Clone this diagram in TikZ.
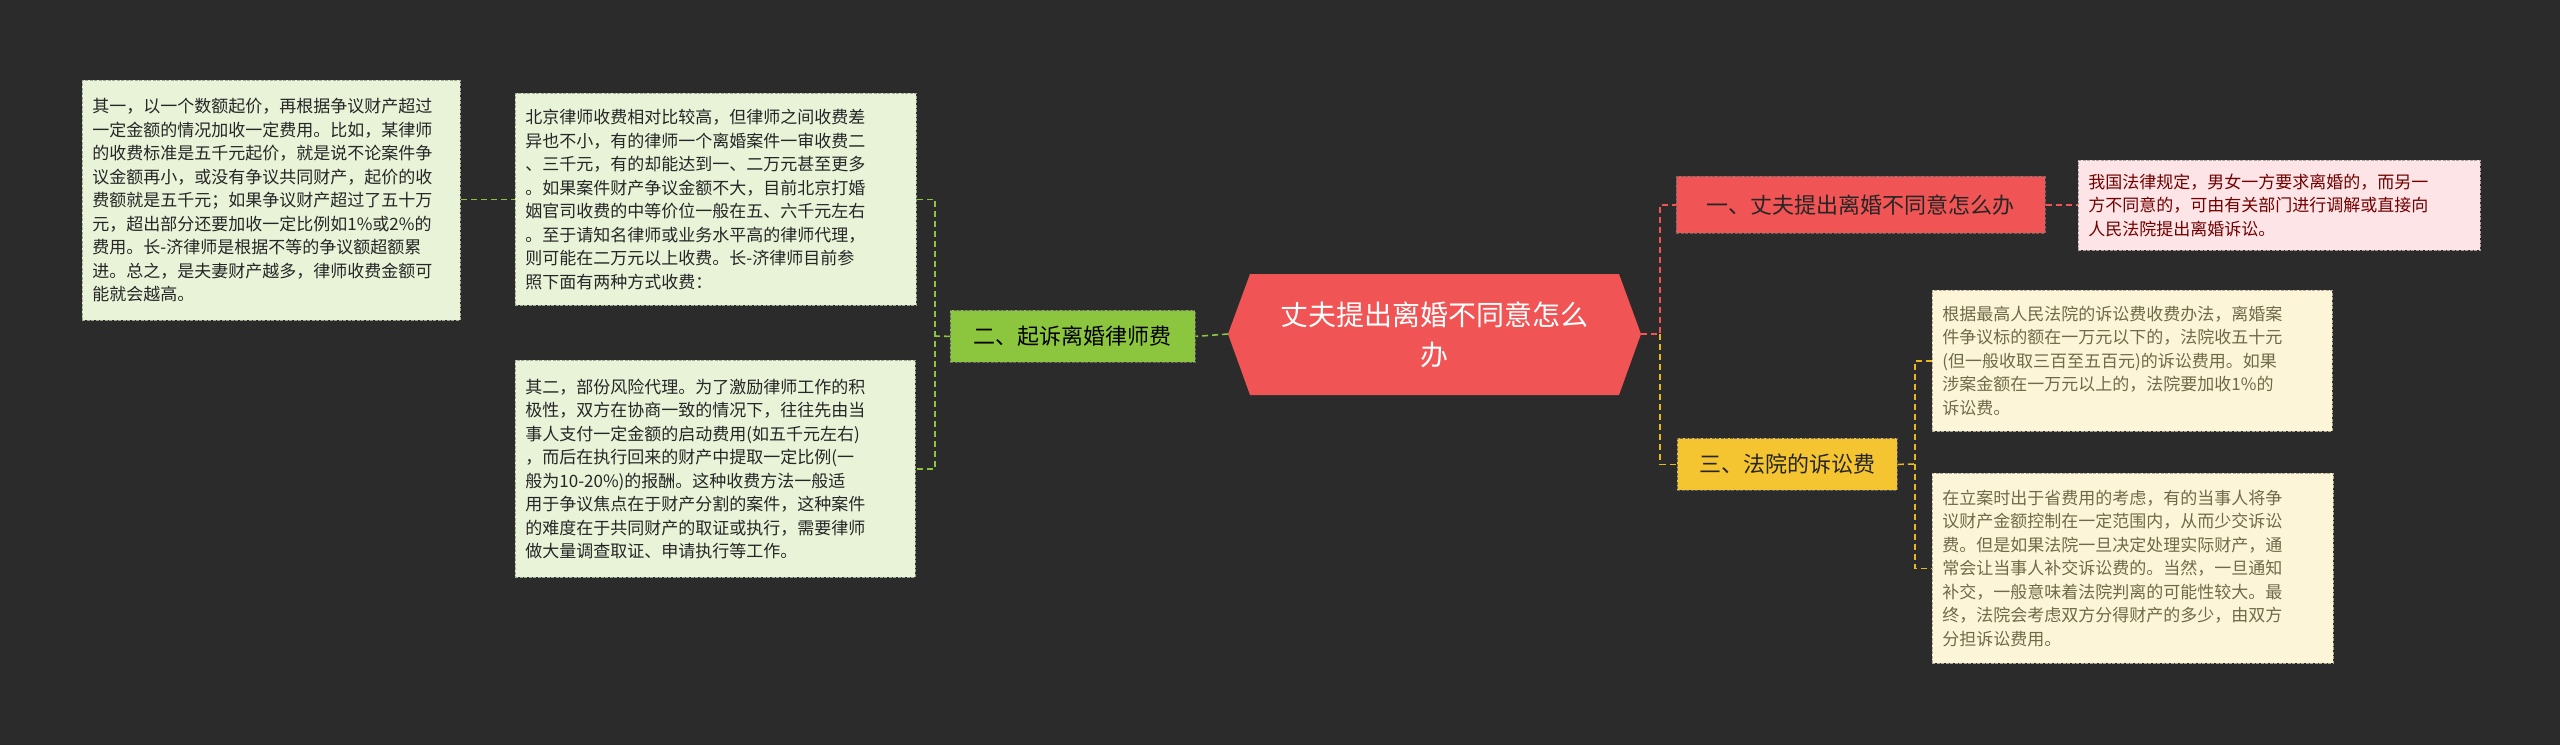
\documentclass[tikz,border=0pt]{standalone}
\usepackage{fontspec}
\setmainfont{Noto Sans CJK SC}
\begin{document}
\begin{tikzpicture}[x=1pt,y=-1pt,
 leaf/.style={draw=#1!70!black,dash pattern=on 3pt off 1.5pt,line width=0.8pt,anchor=north west,align=left,inner xsep=10pt,inner ysep=9pt,font=\fontsize{17}{23.5}\selectfont},
 conn/.style={draw=#1,dash pattern=on 6pt off 4pt,line width=1.6pt},
 branch/.style={draw=black!60,dash pattern=on 3pt off 1.5pt,line width=0.8pt,anchor=north west,inner sep=0pt,font=\fontsize{22}{26}\selectfont}]
\definecolor{bg}{HTML}{2B2B2B}
\definecolor{cred}{HTML}{F05454}
\definecolor{gleaf}{HTML}{E8F3D8}
\definecolor{gbr}{HTML}{8CC63F}
\definecolor{pleaf}{HTML}{FDE4E6}
\definecolor{ybr}{HTML}{F5C531}
\definecolor{yleaf}{HTML}{FDF5D8}
\definecolor{gline}{HTML}{8CC63F}
\definecolor{yline}{HTML}{E8B820}
\fill[bg] (0,0) rectangle (2560,745);
\useasboundingbox (0,0) rectangle (2560,745);
% center
\fill[cred] (1228,334)--(1250,274)--(1619,274)--(1641,334)--(1619,395)--(1250,395)--cycle;
\node[font=\fontsize{28}{40}\selectfont,text=white,align=center,minimum width=413pt,minimum height=121pt] (c) at (1434.5,334.5) {丈夫提出离婚不同意怎么\\办};
\coordinate (cl) at (1228,334);
\coordinate (cr) at (1641,334);
% left branch
\node[branch,fill=gbr,minimum width=245pt,minimum height=52pt] (b2) at (950,310) {二、起诉离婚律师费};
\node[leaf=gleaf,fill=gleaf,text=black!85,minimum width=378pt,minimum height=240pt,text width=358pt] (A) at (82,80) {其一，以一个数额起价，再根据争议财产超过\\一定金额的情况加收一定费用。比如，某律师\\的收费标准是五千元起价，就是说不论案件争\\议金额再小，或没有争议共同财产，起价的收\\费额就是五千元；如果争议财产超过了五十万\\元，超出部分还要加收一定比例如1\%或2\%的\\费用。长-济律师是根据不等的争议额超额累\\进。总之，是夫妻财产越多，律师收费金额可\\能就会越高。};
\node[leaf=gleaf,fill=gleaf,text=black!85,minimum width=401pt,minimum height=212pt,text width=381pt] (B) at (515,93) {北京律师收费相对比较高，但律师之间收费差\\异也不小，有的律师一个离婚案件一审收费二\\、三千元，有的却能达到一、二万元甚至更多\\。如果案件财产争议金额不大，目前北京打婚\\姻官司收费的中等价位一般在五、六千元左右\\。至于请知名律师或业务水平高的律师代理，\\则可能在二万元以上收费。长-济律师目前参\\照下面有两种方式收费：};
\node[leaf=gleaf,fill=gleaf,text=black!85,minimum width=400pt,minimum height=217pt,text width=380pt] (C) at (515,360) {其二，部份风险代理。为了激励律师工作的积\\极性，双方在协商一致的情况下，往往先由当\\事人支付一定金额的启动费用(如五千元左右)\\，而后在执行回来的财产中提取一定比例(一\\般为10-20\%)的报酬。这种收费方法一般适\\用于争议焦点在于财产分割的案件，这种案件\\的难度在于共同财产的取证或执行，需要律师\\做大量调查取证、申请执行等工作。};
\coordinate (lbus) at (935,336);
\draw[conn=gline] (cl) -- (b2.east);
\draw[conn=gline] (b2.west) -- (lbus);
\draw[conn=gline] (B.east) -| (lbus) |- (C.east);
\draw[conn=gline] (A.east|-B.west) -- (B.west);
% right branches
\node[branch,fill=cred,text=black!85,minimum width=369pt,minimum height=57pt] (b1) at (1676,176) {一、丈夫提出离婚不同意怎么办};
\node[leaf=pleaf,fill=pleaf,text=red!45!black,minimum width=402pt,minimum height=90pt,text width=382pt] (P) at (2078,160) {我国法律规定，男女一方要求离婚的，而另一\\方不同意的，可由有关部门进行调解或直接向\\人民法院提出离婚诉讼。};
\node[branch,fill=ybr,text=black!85,minimum width=220pt,minimum height=52pt] (b3) at (1677,438) {三、法院的诉讼费};
\node[leaf=yleaf,fill=yleaf,text=yellow!35!black,minimum width=400pt,minimum height=141pt,text width=380pt] (Y1) at (1932,290) {根据最高人民法院的诉讼费收费办法，离婚案\\件争议标的额在一万元以下的，法院收五十元\\(但一般收取三百至五百元)的诉讼费用。如果\\涉案金额在一万元以上的，法院要加收1\%的\\诉讼费。};
\node[leaf=yleaf,fill=yleaf,text=yellow!35!black,minimum width=401pt,minimum height=190pt,text width=381pt] (Y2) at (1932,473) {在立案时出于省费用的考虑，有的当事人将争\\议财产金额控制在一定范围内，从而少交诉讼\\费。但是如果法院一旦决定处理实际财产，通\\常会让当事人补交诉讼费的。当然，一旦通知\\补交，一般意味着法院判离的可能性较大。最\\终，法院会考虑双方分得财产的多少，由双方\\分担诉讼费用。};
\coordinate (rbus) at (1660,334);
\draw[conn=cred] (cr) -- (rbus) |- (b1.west);
\draw[conn=yline] (rbus) |- (b3.west);
\draw[conn=cred] (b1.east) -- (P.west|-b1.east);
\coordinate (ybus) at (1915,464);
\draw[conn=yline] (b3.east) -- (ybus);
\draw[conn=yline] (Y1.west) -| (ybus) |- (Y2.west);
\end{tikzpicture}
\end{document}
